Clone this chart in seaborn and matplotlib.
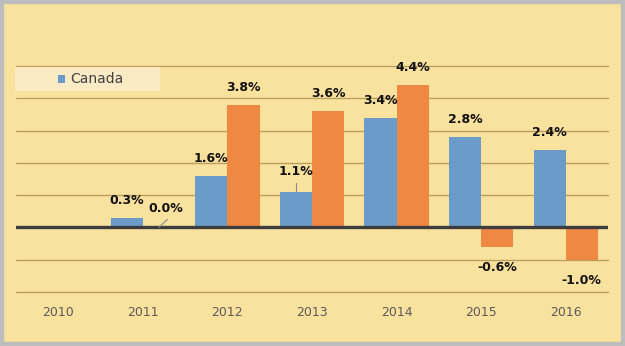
import numpy as np
import pandas as pd
import matplotlib
matplotlib.use("Agg")
import matplotlib.pyplot as plt
import matplotlib.patches as mpatches
import seaborn as sns

years = ["2010", "2011", "2012", "2013", "2014", "2015", "2016"]
canada = [np.nan, 0.3, 1.6, 1.1, 3.4, 2.8, 2.4]
other = [np.nan, 0.0, 3.8, 3.6, 4.4, -0.6, -1.0]
series_names = ["Canada", "Other"]
legend_label = "Canada"
yticks = [-2, -1, 0, 1, 2, 3, 4, 5]

bg = "#F9E19E"
blue = "#6A9BC9"
orange = "#EE8842"

df = pd.DataFrame({
    "year": years * 2,
    "value": canada + other,
    "series": [series_names[0]] * len(years) + [series_names[1]] * len(years),
})

sns.set_theme(style="white")
plt.rcParams["font.family"] = ["DejaVu Sans"]

W, H = 625, 346
fig = plt.figure(figsize=(W / 100, H / 100), dpi=100)
fig.patch.set_facecolor(bg)
ax = fig.add_axes([16 / W, (H - 292) / H, (608 - 16) / W, (292 - 66) / H])
ax.set_facecolor(bg)

sns.barplot(data=df, x="year", y="value", hue="series",
            palette=[blue, orange], width=0.76, saturation=1,
            legend=False, ax=ax, zorder=3, linewidth=0, edgecolor="none")

ax.set_ylim(min(yticks), max(yticks))
ax.set_xlim(-0.5, len(years) - 0.5)
for t in yticks:
    if t == 0:
        continue
    ax.axhline(t, color="#BA9F60", lw=1.0, zorder=1, clip_on=False)
ax.axhline(0, color="#3D3D3D", lw=2.4, zorder=4)

for s in ax.spines.values():
    s.set_visible(False)
ax.set_yticks([])
ax.set_xlabel("")
ax.set_ylabel("")
ax.tick_params(axis="x", length=0, pad=10, labelsize=9, labelcolor="#5A5A5A")

# data labels (series index, category index) -> custom offsets
special = {(1, 1): (5, 9), (0, 3): (0, 10)}
for si, cont in enumerate(ax.containers):
    for bar in cont:
        v = bar.get_height()
        if np.isnan(v):
            continue
        x = bar.get_x() + bar.get_width() / 2
        ci = int(round(x))
        dx, dy = special.get((si, ci), (0, 8 if v >= 0 else -10))
        txt = f"{v:.1f}%"
        ax.annotate(txt, (x, v), xytext=(dx, dy), textcoords="offset points",
                    ha="center", va="bottom" if v >= 0 else "top",
                    fontsize=9, fontweight="bold", color="#111111", zorder=6)
        if (si, ci) == (1, 1):
            ax.plot([x, x + 0.1], [0.0, 0.25], color="#8A8A8A", lw=0.8, zorder=5)
        if (si, ci) == (0, 3):
            ax.plot([x, x], [v, v + 0.28], color="#8A8A8A", lw=0.8, zorder=5)

# legend box
leg_box = mpatches.Rectangle((15 / W, (H - 91) / H), (160 - 15) / W, 24 / H,
                             transform=fig.transFigure, facecolor="#FBEBC4",
                             edgecolor="none", zorder=5)
fig.patches.append(leg_box)
sq = mpatches.Rectangle((58 / W, (H - 83) / H), 7 / W, 8 / H,
                        transform=fig.transFigure, facecolor=blue,
                        edgecolor="none", zorder=6)
fig.patches.append(sq)
fig.text(70 / W, (H - 79) / H, legend_label, fontsize=10, color="#404040",
         va="center", ha="left", zorder=7)

# outer border
border = mpatches.Rectangle((0, 0), 1, 1, transform=fig.transFigure,
                            fill=False, edgecolor="#BDBDBD", lw=6, zorder=10)
fig.patches.append(border)

fig.savefig("out.png", dpi=100, facecolor=bg)
